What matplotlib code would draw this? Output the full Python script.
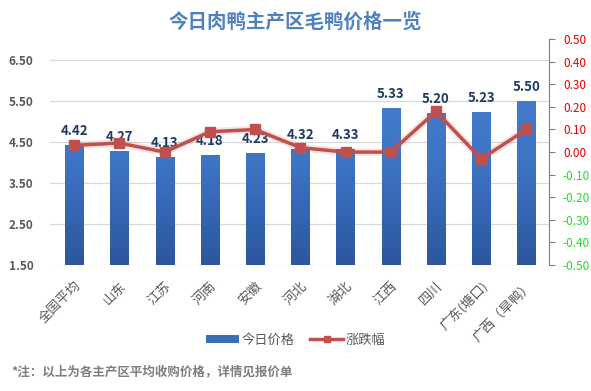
import matplotlib
matplotlib.use("Agg")
import matplotlib.pyplot as plt
from matplotlib.colors import LinearSegmentedColormap
from matplotlib.patches import Patch
from matplotlib.lines import Line2D
import numpy as np

plt.rcParams['font.family'] = ['Noto Sans CJK SC', 'DejaVu Sans']

categories = ["全国平均", "山东", "江苏", "河南", "安徽", "河北", "湖北", "江西", "四川", "广东(塘口)", "广西（旱鸭）"]
prices = [4.42, 4.27, 4.13, 4.18, 4.23, 4.32, 4.33, 5.33, 5.20, 5.23, 5.50]
changes = [0.03, 0.04, 0.00, 0.09, 0.10, 0.02, 0.00, 0.00, 0.18, -0.03, 0.10]
left_ticks = [1.5, 2.5, 3.5, 4.5, 5.5, 6.5]
right_ticks = [-0.5, -0.4, -0.3, -0.2, -0.1, 0.0, 0.1, 0.2, 0.3, 0.4, 0.5]

BAR = "#3A6DBA"
LINE = "#C0504D"
GRAY = "#595959"

fig = plt.figure(figsize=(5.91, 3.91), dpi=100)
ax = fig.add_axes([0.085, 0.322, 0.844, 0.578])
x = np.arange(len(categories))

bars = ax.bar(x, np.array(prices) - 1.5, bottom=1.5, width=0.4, color=BAR, zorder=2)
# vertical gradient inside each bar (lighter on top, darker at the base)
cmap = LinearSegmentedColormap.from_list("barg", ["#2B579E", "#3E74C4", "#4A80D0"])
grad = np.linspace(0, 1, 256).reshape(-1, 1)
for b in bars:
    x0, y0 = b.get_x(), b.get_y()
    w, h = b.get_width(), b.get_height()
    im = ax.imshow(grad, extent=[x0, x0 + w, y0, 6.5], origin="lower",
                   aspect="auto", cmap=cmap, zorder=2.1)
    im.set_clip_path(b)

for xi, p in zip(x, prices):
    ax.annotate(f"{p:.2f}", (xi, p), xytext=(0, 5), textcoords="offset points",
                ha="center", va="bottom", fontsize=9.5, fontweight="bold",
                color="#1F3864", zorder=5)

ax.set_ylim(1.5, 7.0)
ax.set_xlim(-0.53, 10.5)
ax.set_yticks(left_ticks)
ax.set_yticklabels([f"{t:.2f}" for t in left_ticks], fontsize=8.5,
                   fontweight="bold", color=GRAY)
ax.yaxis.grid(True, color="#D9D9D9", linewidth=0.9, zorder=0)
ax.tick_params(axis="y", length=0, pad=12)
ax.set_xticks(x)
ax.set_xticklabels(categories, rotation=45, ha="right", rotation_mode="anchor",
                   fontsize=9.5, color=GRAY)
ax.tick_params(axis="x", length=0, pad=10)
for s in ["top", "right", "left", "bottom"]:
    ax.spines[s].set_visible(False)

ax2 = ax.twinx()
ax2.plot(x, changes, color=LINE, linewidth=5.5, alpha=0.15, zorder=3)
ax2.plot(x, changes, color=LINE, linewidth=2.5, marker="s", markersize=7,
         label="涨跌幅", zorder=4)
ax2.set_ylim(-0.5, 0.5)
ax2.set_yticks(right_ticks)
ax2.set_yticklabels([f"{t:.2f}" for t in right_ticks], fontsize=8.5)
for lbl, t in zip(ax2.get_yticklabels(), right_ticks):
    lbl.set_color("#E00000" if t >= -0.001 else "#22DD22")
ax2.tick_params(axis="y", direction="out", length=4, color="#7F7F7F", pad=6)
for s in ["top", "left", "bottom"]:
    ax2.spines[s].set_visible(False)
ax2.spines["right"].set_color("#7F7F7F")

fig.text(0.5, 0.945, "今日肉鸭主产区毛鸭价格一览", ha="center", va="center",
         fontsize=14, fontweight="bold", color="#4F81BD")

handles = [Patch(facecolor=BAR, label="今日价格"),
           Line2D([0], [0], color=LINE, linewidth=2.5, marker="s", markersize=5, label="涨跌幅")]
fig.legend(handles=handles, loc="center", bbox_to_anchor=(0.5, 0.13), ncol=2,
           frameon=False, fontsize=9.5, handlelength=2.5, handleheight=0.5,
           columnspacing=1.2, handletextpad=0.2, labelcolor=GRAY)

fig.text(0.02, 0.05, "*注：以上为各主产区平均收购价格，详情见报价单", ha="left", va="center",
         fontsize=9, fontweight="bold", color="#7F7F7F")

fig.savefig("out.png", dpi=100, facecolor="white")
